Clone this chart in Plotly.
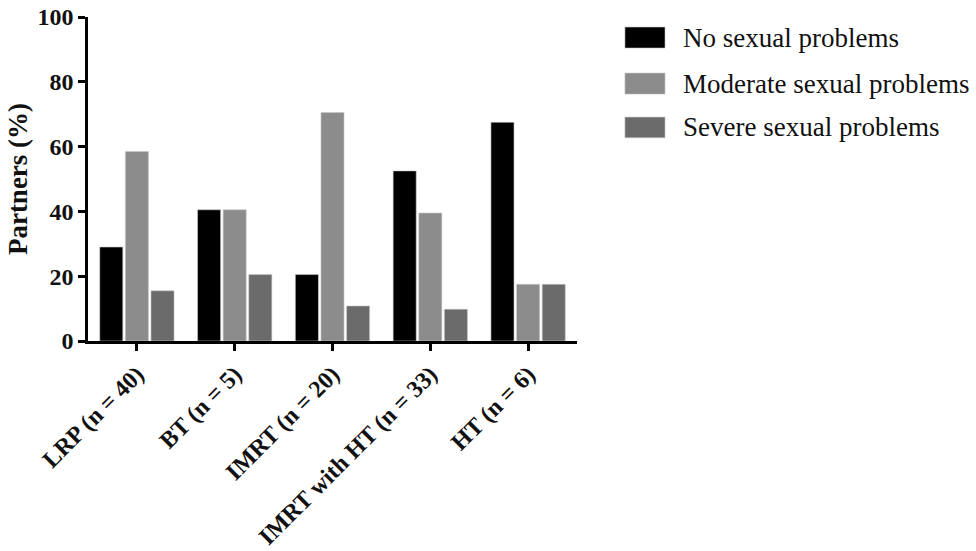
import plotly.graph_objects as go

categories = ["LRP (n = 40)", "BT (n = 5)", "IMRT (n = 20)", "IMRT with HT (n = 33)", "HT (n = 6)"]
series_names = ["No sexual problems", "Moderate sexual problems", "Severe sexual problems"]
no_problems = [29, 40.5, 20.5, 52.5, 67.5]
moderate_problems = [58.5, 40.5, 70.5, 39.5, 17.5]
severe_problems = [15.5, 20.5, 10.8, 9.8, 17.5]
y_ticks = [0, 20, 40, 60, 80, 100]

colors = ["#000000", "#8c8c8c", "#6b6b6b"]
values = [no_problems, moderate_problems, severe_problems]
FONT = "Times New Roman, Liberation Serif, serif"

fig = go.Figure()
for name, vals, col in zip(series_names, values, colors):
    fig.add_trace(go.Bar(x=categories, y=vals, name=name, marker_color=col,
                         marker_line=dict(color="#c8c8c8", width=0.6), showlegend=False))

# custom legend with large swatches
leg_y = [(0.969, 0.904), (0.827, 0.762), (0.691, 0.627)]
for (y1, y0), name, col in zip(leg_y, series_names, colors):
    fig.add_shape(type="rect", xref="paper", yref="paper", x0=1.098, x1=1.18, y0=y0, y1=y1,
                  fillcolor=col, line=dict(color="#c8c8c8", width=0.6))
    fig.add_annotation(xref="paper", yref="paper", x=1.212, y=(y0 + y1) / 2, text=name,
                       showarrow=False, xanchor="left", yanchor="middle",
                       font=dict(family=FONT, size=27, color="#111"))

fig.update_layout(
    width=976, height=551,
    margin=dict(l=88, r=399, t=17, b=210),
    paper_bgcolor="white", plot_bgcolor="white",
    bargap=0.214, bargroupgap=0.1, barmode="group",
    font=dict(family=FONT, color="#111"),
)
fig.update_xaxes(range=[-0.5, 4.5], showline=True, linecolor="black", linewidth=2.5,
                 ticks="outside", ticklen=7, tickwidth=2.5, tickcolor="black",
                 tickangle=-45, tickfont=dict(family=FONT, size=24, color="#111", weight="bold"),
                 showgrid=False, zeroline=False, automargin=False)
fig.update_yaxes(range=[0, 100], tickvals=y_ticks, showline=True, linecolor="black", linewidth=2.5,
                 ticks="outside", ticklen=7, tickwidth=2.5, tickcolor="black",
                 tickfont=dict(family=FONT, size=24, color="#111", weight="bold"),
                 title=dict(text="Partners (%)", font=dict(family=FONT, size=27, color="#111", weight="bold"), standoff=3),
                 showgrid=False, zeroline=False, automargin=False)

fig.write_html("out.html", config={"displayModeBar": False},
               post_script="document.body.style.margin='0';document.body.style.overflow='hidden';")
